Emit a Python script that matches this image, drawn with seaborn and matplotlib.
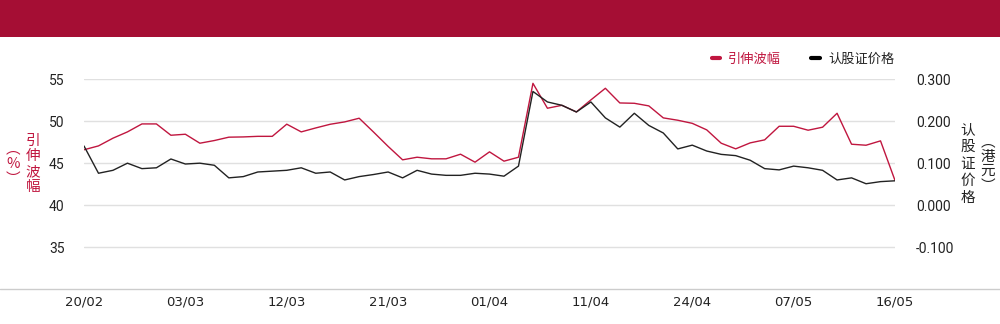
import matplotlib
matplotlib.use("Agg")
import matplotlib.pyplot as plt
import seaborn as sns
import pandas as pd
from matplotlib.lines import Line2D
from matplotlib.patches import Rectangle

dates = ["20/02", "21/02", "24/02", "25/02", "26/02", "27/02", "28/02",
         "03/03", "04/03", "05/03", "06/03", "07/03", "10/03", "11/03",
         "12/03", "13/03", "14/03", "17/03", "18/03", "19/03", "20/03",
         "21/03", "24/03", "25/03", "26/03", "27/03", "28/03", "31/03",
         "01/04", "02/04", "03/04", "07/04", "08/04", "09/04", "10/04",
         "11/04", "14/04", "15/04", "16/04", "17/04", "22/04", "23/04",
         "24/04", "25/04", "28/04", "29/04", "30/04", "02/05", "06/05",
         "07/05", "08/05", "09/05", "12/05", "13/05", "14/05", "15/05",
         "16/05"]

implied_vol = [46.6, 47.06, 47.98, 48.73, 49.68, 49.68, 48.33,
               48.45, 47.38, 47.7, 48.1, 48.13, 48.2, 48.2,
               49.65, 48.73, 49.2, 49.64, 49.92, 50.36, 48.7,
               47.0, 45.4, 45.71, 45.52, 45.52, 46.07, 45.12,
               46.35, 45.24, 45.71, 54.52, 51.55, 51.9, 51.11,
               52.54, 53.93, 52.18, 52.14, 51.83, 50.4, 50.12,
               49.75, 48.97, 47.38, 46.71, 47.42, 47.78, 49.4,
               49.4, 48.93, 49.29, 50.95, 47.26, 47.14, 47.66,
               42.94]

warrant_price = [0.141, 0.076, 0.083, 0.100, 0.087, 0.089, 0.110,
                 0.098, 0.100, 0.095, 0.065, 0.068, 0.079, 0.081,
                 0.083, 0.089, 0.076, 0.079, 0.060, 0.068, 0.073,
                 0.079, 0.065, 0.083, 0.074, 0.071, 0.071, 0.076,
                 0.074, 0.069, 0.093, 0.271, 0.246, 0.238, 0.222,
                 0.246, 0.208, 0.186, 0.219, 0.190, 0.172, 0.134,
                 0.143, 0.129, 0.121, 0.118, 0.107, 0.087, 0.084,
                 0.093, 0.089, 0.083, 0.060, 0.065, 0.051, 0.056,
                 0.058]

left_ticks = [35, 40, 45, 50, 55]
right_ticks = [-0.1, 0.0, 0.1, 0.2, 0.3]
tick_every = 7

RED = "#C0163F"
HEADER = "#A50E34"
TEXT = "#222222"

sns.set_theme(style="white")
plt.rcParams["font.family"] = ["Noto Sans CJK SC", "DejaVu Sans"]
plt.rcParams["axes.unicode_minus"] = False

df = pd.DataFrame({"idx": range(len(dates)), "vol": implied_vol, "price": warrant_price})

fig = plt.figure(figsize=(10, 3.24), dpi=100)
fig.patch.set_facecolor("white")
fig.add_artist(Rectangle((0, 1 - 37 / 324), 1, 37 / 324, transform=fig.transFigure,
                         facecolor=HEADER, edgecolor="none"))

ax = fig.add_axes([0.084, 1 - 289 / 324, 0.811, (289 - 79.3) / 324])
ax2 = ax.twinx()

sns.lineplot(data=df, x="idx", y="vol", ax=ax, color=RED, lw=1.0)
sns.lineplot(data=df, x="idx", y="price", ax=ax2, color=TEXT, lw=1.0)

ax.set_xlim(0, len(dates) - 1)
ax.set_ylim(30, 55)
ax2.set_ylim(-0.2, 0.3)

for s in list(ax.spines.values()) + list(ax2.spines.values()):
    s.set_visible(False)

ax.set_yticks(left_ticks)
ax.set_yticklabels([str(t) for t in left_ticks], fontfamily="Roboto", fontsize=10, color=TEXT)
ax2.set_yticks(right_ticks)
ax2.set_yticklabels([f"{t:.3f}" if t != 0 else "0.000" for t in right_ticks],
                    fontfamily="Roboto", fontsize=10, color=TEXT)
ax.grid(axis="y", color="#e0e0e0", lw=1)
ax.grid(axis="x", visible=False)
ax2.grid(False)

xt = list(range(0, len(dates), tick_every))
ax.set_xticks(xt)
ax.set_xticklabels([dates[i] for i in xt], fontfamily="Liberation Sans Narrow", fontsize=9.5, color=TEXT)
ax.tick_params(axis="x", length=0, pad=5)
ax.tick_params(axis="y", length=0, pad=14)
ax2.tick_params(axis="y", length=0, pad=15)
ax.set_xlabel("")
ax.set_ylabel("")
ax2.set_ylabel("")

# full-width baseline
fig.add_artist(Line2D([0, 1], [1 - 289 / 324, 1 - 289 / 324], transform=fig.transFigure,
                      color="#cccccc", lw=1))

# vertical axis titles
fig.text(33 / 1000, 1 - 164 / 324, "引\n伸\n波\n幅", color=RED, fontsize=10.5,
         ha="center", va="center", linespacing=1.15)
fig.text(13 / 1000, 1 - 164 / 324, "︵\n%\n︶", color=RED, fontsize=10.5,
         ha="center", va="center", linespacing=1.05)
fig.text(968 / 1000, 1 - 164 / 324, "认\n股\n证\n价\n格", color=TEXT, fontsize=10.5,
         ha="center", va="center", linespacing=1.25)
fig.text(988 / 1000, 1 - 164 / 324, "︵\n港\n元\n︶", color=TEXT, fontsize=10.5,
         ha="center", va="center", linespacing=1.05)

# legend
handles = [Line2D([], [], color=RED, lw=3), Line2D([], [], color="black", lw=3)]
leg = ax.legend(handles, ["引伸波幅", "认股证价格"], ncol=2, frameon=False,
                loc="center right", bbox_to_anchor=(0.906, 1 - 59 / 324),
                bbox_transform=fig.transFigure, fontsize=9.5, handlelength=0.65,
                handletextpad=0.6, columnspacing=2.3)
leg.get_texts()[0].set_color(RED)
leg.get_texts()[1].set_color(TEXT)

fig.savefig("out.png", dpi=100, facecolor="white")
